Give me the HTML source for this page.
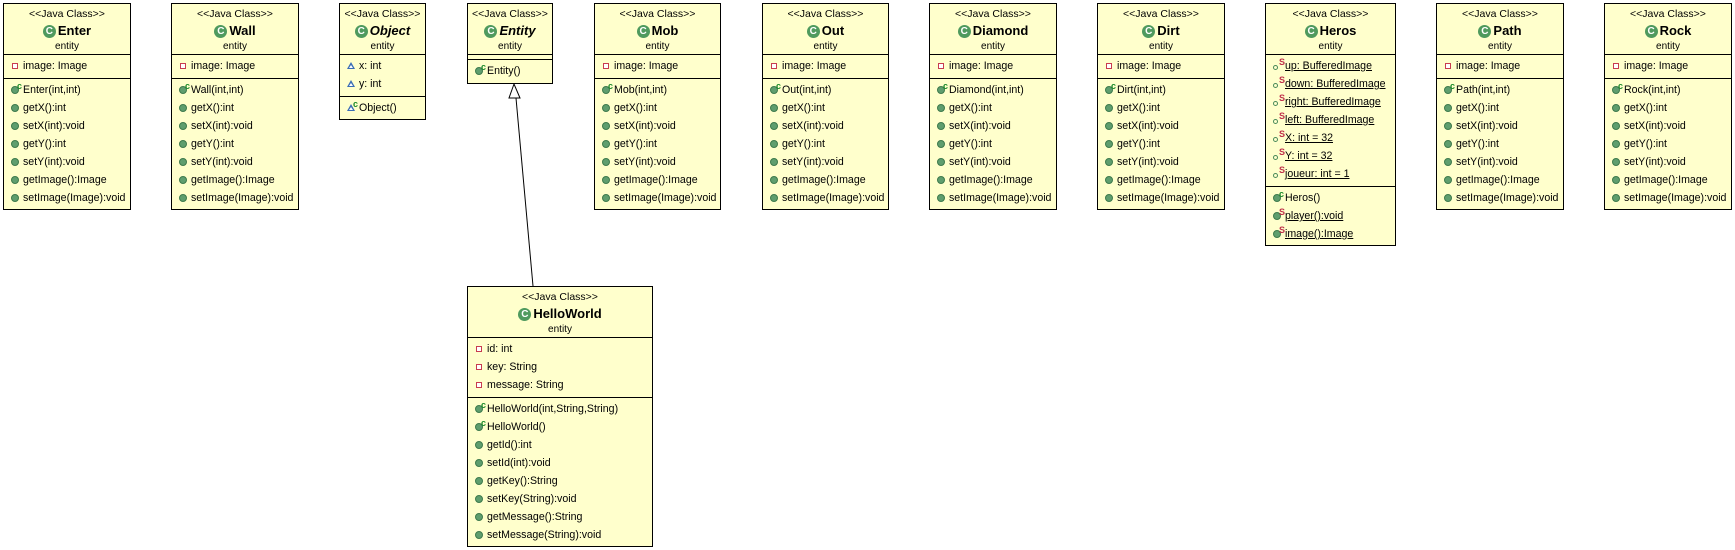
<!DOCTYPE html>
<html><head><meta charset="utf-8"><style>
body{margin:0;width:1735px;height:550px;background:#fff;position:relative;overflow:hidden;font-family:"Liberation Sans",sans-serif;font-size:10.6px;color:#000}
.b{position:absolute;background:#ffffcc;border:1px solid #000;box-sizing:border-box}
.h{height:51px;border-bottom:1px solid #000;text-align:center;box-sizing:border-box;padding-top:2px}
.st{font-size:10.5px;height:16px;line-height:16px}
.n{font-weight:bold;font-size:13px;height:18px;line-height:18px}
.n.it{font-style:italic}
.pk{font-size:10px;line-height:14px}
.sec{border-bottom:1px solid #000;padding:2px 0 3px 0}
.sec:last-child{border-bottom:none}
.r{height:18px;line-height:18px;padding-left:19px;position:relative;white-space:nowrap}
.r i{position:absolute;left:7px;top:5px}
.m{width:8px;height:8px;border-radius:50%;background:#5f9e6e;border:0.5px solid #3d7a4c;box-sizing:border-box}
.p{width:6px;height:6px;left:8px!important;top:6px!important;background:#fff;border:1.5px solid #c83c50;box-sizing:border-box}
.f{width:0;height:0;border-left:4px solid transparent;border-right:4px solid transparent;border-bottom:7px solid #3a6db5;top:5px!important}
.f::after{content:"";position:absolute;left:-2px;top:2.5px;border-left:2px solid transparent;border-right:2px solid transparent;border-bottom:3.5px solid #fff}
.o{width:5px;height:5px;border-radius:50%;border:1.3px solid #4a8a5a;box-sizing:border-box;top:8px!important}
sup{position:absolute;left:13px;top:1px;font-size:9px;font-weight:bold;line-height:9px}
.c{color:#1a8a2a}.S{color:#c0304a}
.u{text-decoration:underline}
.ic{display:inline-block;width:13px;height:13px;border-radius:50%;background:#4f9a5e;color:#fff;font-size:10px;font-weight:bold;line-height:13px;text-align:center;vertical-align:1px;margin-right:2px;font-style:normal}
</style></head><body>

<svg style="position:absolute;left:0;top:0" width="1735" height="550">
<line x1="516" y1="98" x2="533" y2="286" stroke="#000" stroke-width="1"/>
<polygon points="514,84 509,98 520,98" fill="#fff" stroke="#000" stroke-width="1"/>
</svg>

<div class="b" style="left:3px;top:3px;width:128px;height:207px">
<div class="h"><div class="st">&lt;&lt;Java Class&gt;&gt;</div><div class="n"><span class="ic">C</span>Enter</div><div class="pk">entity</div></div>
<div class="sec"><div class="r"><i class="p"></i>image: Image</div></div>
<div class="sec"><div class="r"><i class="m"></i><sup class="c">c</sup>Enter(int,int)</div><div class="r"><i class="m"></i>getX():int</div><div class="r"><i class="m"></i>setX(int):void</div><div class="r"><i class="m"></i>getY():int</div><div class="r"><i class="m"></i>setY(int):void</div><div class="r"><i class="m"></i>getImage():Image</div><div class="r"><i class="m"></i>setImage(Image):void</div></div>
</div>

<div class="b" style="left:171px;top:3px;width:128px;height:207px">
<div class="h"><div class="st">&lt;&lt;Java Class&gt;&gt;</div><div class="n"><span class="ic">C</span>Wall</div><div class="pk">entity</div></div>
<div class="sec"><div class="r"><i class="p"></i>image: Image</div></div>
<div class="sec"><div class="r"><i class="m"></i><sup class="c">c</sup>Wall(int,int)</div><div class="r"><i class="m"></i>getX():int</div><div class="r"><i class="m"></i>setX(int):void</div><div class="r"><i class="m"></i>getY():int</div><div class="r"><i class="m"></i>setY(int):void</div><div class="r"><i class="m"></i>getImage():Image</div><div class="r"><i class="m"></i>setImage(Image):void</div></div>
</div>

<div class="b" style="left:339px;top:3px;width:87px;height:117px">
<div class="h"><div class="st">&lt;&lt;Java Class&gt;&gt;</div><div class="n it"><span class="ic">C</span>Object</div><div class="pk">entity</div></div>
<div class="sec"><div class="r"><i class="f"></i>x: int</div><div class="r"><i class="f"></i>y: int</div></div>
<div class="sec"><div class="r"><i class="f"></i><sup class="c">c</sup>Object()</div></div>
</div>

<div class="b" style="left:467px;top:3px;width:86px;height:81px">
<div class="h"><div class="st">&lt;&lt;Java Class&gt;&gt;</div><div class="n it"><span class="ic">C</span>Entity</div><div class="pk">entity</div></div>
<div class="sec" style="height:0;padding:2px 0 2px 0"></div>
<div class="sec"><div class="r"><i class="m"></i><sup class="c">c</sup>Entity()</div></div>
</div>

<div class="b" style="left:594px;top:3px;width:127px;height:207px">
<div class="h"><div class="st">&lt;&lt;Java Class&gt;&gt;</div><div class="n"><span class="ic">C</span>Mob</div><div class="pk">entity</div></div>
<div class="sec"><div class="r"><i class="p"></i>image: Image</div></div>
<div class="sec"><div class="r"><i class="m"></i><sup class="c">c</sup>Mob(int,int)</div><div class="r"><i class="m"></i>getX():int</div><div class="r"><i class="m"></i>setX(int):void</div><div class="r"><i class="m"></i>getY():int</div><div class="r"><i class="m"></i>setY(int):void</div><div class="r"><i class="m"></i>getImage():Image</div><div class="r"><i class="m"></i>setImage(Image):void</div></div>
</div>

<div class="b" style="left:762px;top:3px;width:127px;height:207px">
<div class="h"><div class="st">&lt;&lt;Java Class&gt;&gt;</div><div class="n"><span class="ic">C</span>Out</div><div class="pk">entity</div></div>
<div class="sec"><div class="r"><i class="p"></i>image: Image</div></div>
<div class="sec"><div class="r"><i class="m"></i><sup class="c">c</sup>Out(int,int)</div><div class="r"><i class="m"></i>getX():int</div><div class="r"><i class="m"></i>setX(int):void</div><div class="r"><i class="m"></i>getY():int</div><div class="r"><i class="m"></i>setY(int):void</div><div class="r"><i class="m"></i>getImage():Image</div><div class="r"><i class="m"></i>setImage(Image):void</div></div>
</div>

<div class="b" style="left:929px;top:3px;width:128px;height:207px">
<div class="h"><div class="st">&lt;&lt;Java Class&gt;&gt;</div><div class="n"><span class="ic">C</span>Diamond</div><div class="pk">entity</div></div>
<div class="sec"><div class="r"><i class="p"></i>image: Image</div></div>
<div class="sec"><div class="r"><i class="m"></i><sup class="c">c</sup>Diamond(int,int)</div><div class="r"><i class="m"></i>getX():int</div><div class="r"><i class="m"></i>setX(int):void</div><div class="r"><i class="m"></i>getY():int</div><div class="r"><i class="m"></i>setY(int):void</div><div class="r"><i class="m"></i>getImage():Image</div><div class="r"><i class="m"></i>setImage(Image):void</div></div>
</div>

<div class="b" style="left:1097px;top:3px;width:128px;height:207px">
<div class="h"><div class="st">&lt;&lt;Java Class&gt;&gt;</div><div class="n"><span class="ic">C</span>Dirt</div><div class="pk">entity</div></div>
<div class="sec"><div class="r"><i class="p"></i>image: Image</div></div>
<div class="sec"><div class="r"><i class="m"></i><sup class="c">c</sup>Dirt(int,int)</div><div class="r"><i class="m"></i>getX():int</div><div class="r"><i class="m"></i>setX(int):void</div><div class="r"><i class="m"></i>getY():int</div><div class="r"><i class="m"></i>setY(int):void</div><div class="r"><i class="m"></i>getImage():Image</div><div class="r"><i class="m"></i>setImage(Image):void</div></div>
</div>

<div class="b" style="left:1265px;top:3px;width:131px;height:243px">
<div class="h"><div class="st">&lt;&lt;Java Class&gt;&gt;</div><div class="n"><span class="ic">C</span>Heros</div><div class="pk">entity</div></div>
<div class="sec"><div class="r"><i class="o"></i><sup class="S">S</sup><span class="u">up: BufferedImage</span></div><div class="r"><i class="o"></i><sup class="S">S</sup><span class="u">down: BufferedImage</span></div><div class="r"><i class="o"></i><sup class="S">S</sup><span class="u">right: BufferedImage</span></div><div class="r"><i class="o"></i><sup class="S">S</sup><span class="u">left: BufferedImage</span></div><div class="r"><i class="o"></i><sup class="S">S</sup><span class="u">X: int = 32</span></div><div class="r"><i class="o"></i><sup class="S">S</sup><span class="u">Y: int = 32</span></div><div class="r"><i class="o"></i><sup class="S">S</sup><span class="u">joueur: int = 1</span></div></div>
<div class="sec"><div class="r"><i class="m"></i><sup class="c">c</sup>Heros()</div><div class="r"><i class="m"></i><sup class="S">S</sup><span class="u">player():void</span></div><div class="r"><i class="m"></i><sup class="S">S</sup><span class="u">image():Image</span></div></div>
</div>

<div class="b" style="left:1436px;top:3px;width:128px;height:207px">
<div class="h"><div class="st">&lt;&lt;Java Class&gt;&gt;</div><div class="n"><span class="ic">C</span>Path</div><div class="pk">entity</div></div>
<div class="sec"><div class="r"><i class="p"></i>image: Image</div></div>
<div class="sec"><div class="r"><i class="m"></i><sup class="c">c</sup>Path(int,int)</div><div class="r"><i class="m"></i>getX():int</div><div class="r"><i class="m"></i>setX(int):void</div><div class="r"><i class="m"></i>getY():int</div><div class="r"><i class="m"></i>setY(int):void</div><div class="r"><i class="m"></i>getImage():Image</div><div class="r"><i class="m"></i>setImage(Image):void</div></div>
</div>

<div class="b" style="left:1604px;top:3px;width:128px;height:207px">
<div class="h"><div class="st">&lt;&lt;Java Class&gt;&gt;</div><div class="n"><span class="ic">C</span>Rock</div><div class="pk">entity</div></div>
<div class="sec"><div class="r"><i class="p"></i>image: Image</div></div>
<div class="sec"><div class="r"><i class="m"></i><sup class="c">c</sup>Rock(int,int)</div><div class="r"><i class="m"></i>getX():int</div><div class="r"><i class="m"></i>setX(int):void</div><div class="r"><i class="m"></i>getY():int</div><div class="r"><i class="m"></i>setY(int):void</div><div class="r"><i class="m"></i>getImage():Image</div><div class="r"><i class="m"></i>setImage(Image):void</div></div>
</div>

<div class="b" style="left:467px;top:286px;width:186px;height:261px">
<div class="h"><div class="st">&lt;&lt;Java Class&gt;&gt;</div><div class="n"><span class="ic">C</span>HelloWorld</div><div class="pk">entity</div></div>
<div class="sec"><div class="r"><i class="p"></i>id: int</div><div class="r"><i class="p"></i>key: String</div><div class="r"><i class="p"></i>message: String</div></div>
<div class="sec"><div class="r"><i class="m"></i><sup class="c">c</sup>HelloWorld(int,String,String)</div><div class="r"><i class="m"></i><sup class="c">c</sup>HelloWorld()</div><div class="r"><i class="m"></i>getId():int</div><div class="r"><i class="m"></i>setId(int):void</div><div class="r"><i class="m"></i>getKey():String</div><div class="r"><i class="m"></i>setKey(String):void</div><div class="r"><i class="m"></i>getMessage():String</div><div class="r"><i class="m"></i>setMessage(String):void</div></div>
</div>

</body></html>
